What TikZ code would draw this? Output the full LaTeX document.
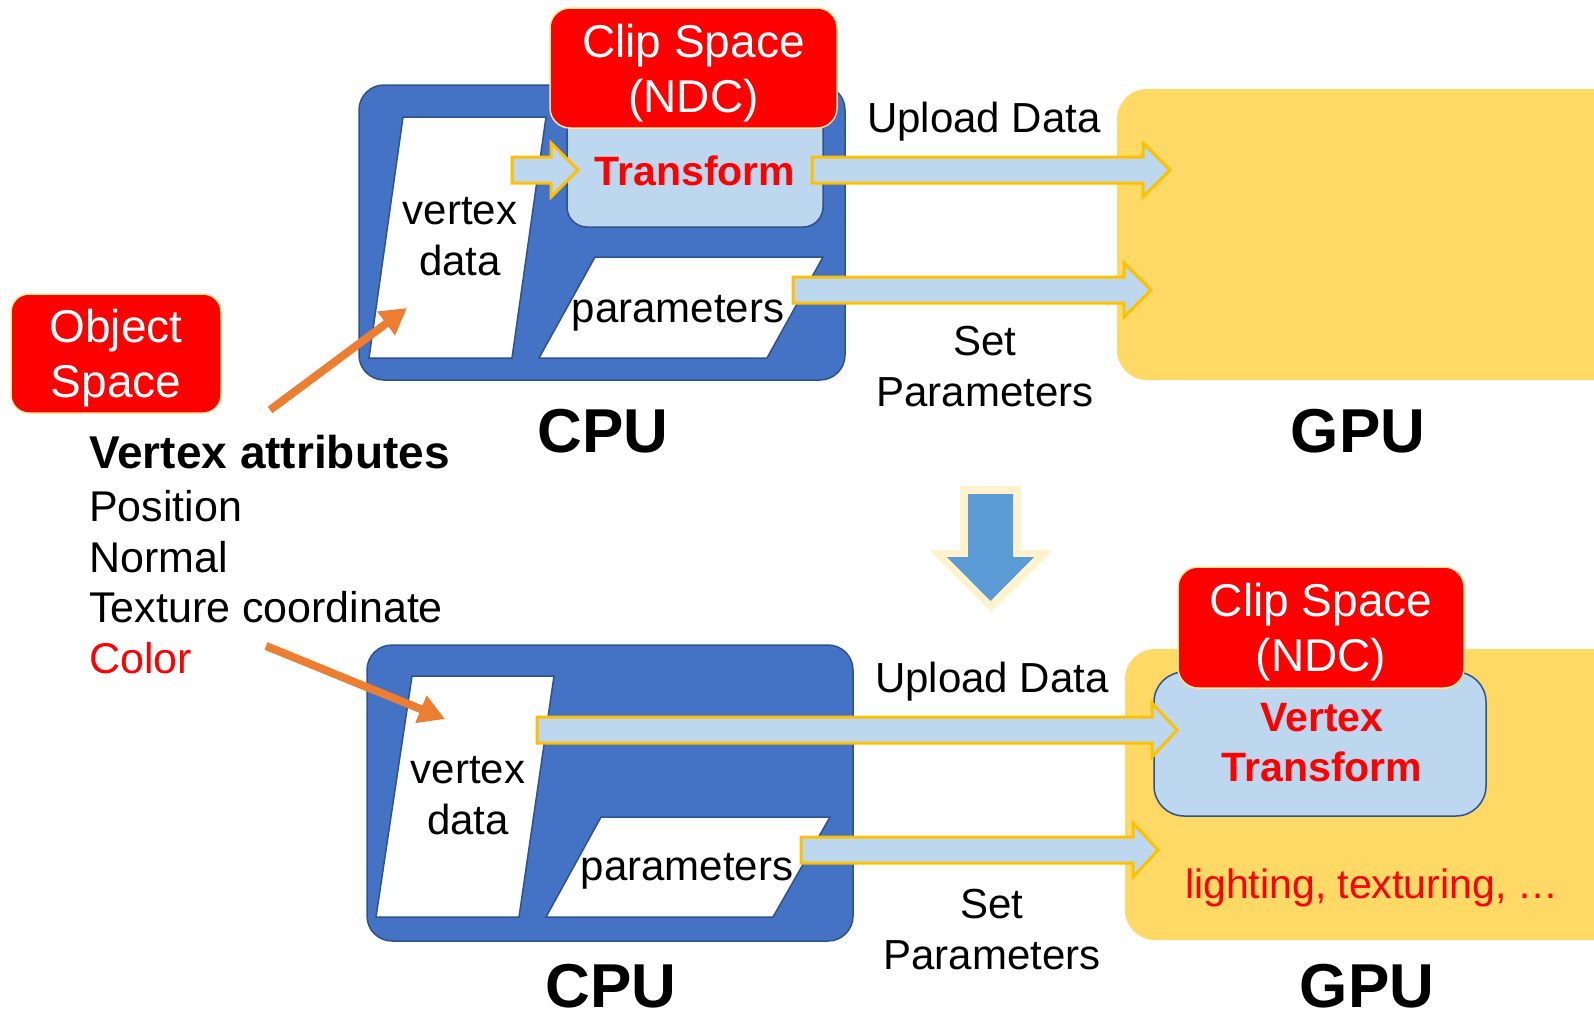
\documentclass[tikz,border=0pt]{standalone}
\usepackage{fontspec}
\setmainfont{Liberation Sans}
\usetikzlibrary{arrows.meta}

\definecolor{cpublue}{HTML}{4472C4}
\definecolor{cpuedge}{HTML}{2F528F}
\definecolor{paleblue}{HTML}{BDD7EE}
\definecolor{amber}{HTML}{FFC000}
\definecolor{gpugold}{HTML}{FFD966}
\definecolor{tagred}{HTML}{FF0000}
\definecolor{tagedge}{HTML}{FFE699}
\definecolor{pointer}{HTML}{ED7D31}
\definecolor{flowblue}{HTML}{5B9BD5}
\definecolor{flowhalo}{HTML}{FFF2CC}

% block arrow: #1 tail x, #2 tip x, #3 x where the head starts, #4 centre y
\newcommand{\flowarrow}[4]{%
  \draw[flow] (#1,#4-13) -- (#3,#4-13) -- (#3,#4-27) -- (#2,#4)
    -- (#3,#4+27) -- (#3,#4+13) -- (#1,#4+13) -- cycle;}

\begin{document}
\begin{tikzpicture}[x=1pt,y=-1pt,
  lbl/.style={font=\fontsize{42}{51}\selectfont, align=center, inner sep=0pt},
  redbold/.style={font=\bfseries\fontsize{41}{50}\selectfont, text=tagred, align=center, inner sep=0pt},
  hw/.style={font=\bfseries\fontsize{62}{70}\selectfont, inner sep=0pt, anchor=base},
  tag/.style={fill=tagred, draw=tagedge, line width=1.5pt, rounded corners=20pt,
    text=white, font=\fontsize{46}{55}\selectfont, align=center, inner sep=0pt, text depth=0pt},
  cpubox/.style={fill=cpublue, draw=cpuedge, line width=1.5pt, rounded corners=25pt,
    minimum width=486pt, minimum height=295pt, inner sep=0pt},
  gpubox/.style={fill=gpugold, draw=none, rounded corners=30pt, inner sep=0pt},
  stage/.style={fill=paleblue, draw=cpuedge, line width=1.5pt, inner sep=0pt},
  slab/.style={fill=white, draw=cpuedge, line width=1.5pt, line join=miter},
  flow/.style={fill=paleblue, draw=amber, line width=3pt, line join=miter},
  attr/.style={font=\fontsize{43}{51}\selectfont, anchor=base west, inner sep=0pt},
  pointerline/.style={draw=pointer, line width=8pt, -{Triangle[length=26pt,width=28pt]}}
]
\useasboundingbox (0,0) rectangle (1594,1013);
\clip (0,0) rectangle (1594,1013);

% ---------- upper row: transform on the CPU ----------
\node[cpubox] (cpuA) at (602,232.5) {};
\node[gpubox, minimum width=523pt, minimum height=291pt] (gpuA) at (1378.5,234.5) {};
\draw[slab] (403,117) -- (546,117) -- (512,358) -- (369,358) -- cycle;
\node[lbl] (vdA) at (460,237) {vertex\\data};
\draw[slab] (595,257) -- (823,257) -- (767,358) -- (539,358) -- cycle;
\node[lbl, anchor=base] (parA) at (678,322) {parameters};
\node[stage, rounded corners=20pt, minimum width=256pt, minimum height=122pt] (trA) at (695,166) {};
\node[tag, minimum width=287pt, minimum height=120pt] (clipA) at (693.5,68) {Clip Space\\(NDC)};
\node[redbold, anchor=base] (trAtext) at (695,185) {Transform};

\flowarrow{512}{578}{551}{170}
\flowarrow{812}{1170}{1143}{170}
\flowarrow{793}{1151}{1124}{290}

\node[lbl, anchor=base] (upA) at (984,132) {Upload Data};
\node[lbl] (setA) at (985,367) {Set\\Parameters};
\node[hw] (cpuAlbl) at (603,452) {CPU};
\node[hw] (gpuAlbl) at (1358,452) {GPU};

% ---------- object space and vertex attributes ----------
\node[tag, rounded corners=18pt, minimum width=210pt, minimum height=119pt] (obj) at (116,353.5) {Object\\Space};
\node[attr, font=\bfseries\fontsize{46}{51}\selectfont] (attrhead) at (89,468) {Vertex attributes};
\node[attr] (attrpos) at (89,521) {Position};
\node[attr] (attrnor) at (89,572) {Normal};
\node[attr] (attrtex) at (89,622) {Texture coordinate};
\node[attr, text=tagred] (attrcol) at (89,673) {Color};

\coordinate (tailA) at (270,410);
\coordinate (tipA) at (407,308);
\draw[pointerline] (tailA) -- (tipA);

% ---------- transition arrow ----------
\fill[flowhalo] (960,486) -- (1021,486) -- (1021,550) -- (1053,550) -- (991,612)
  -- (929,550) -- (960,550) -- cycle;
\fill[flowblue] (968,494) -- (1013,494) -- (1013,557) -- (1034,557) -- (990.5,601)
  -- (947,557) -- (968,557) -- cycle;

% ---------- lower row: transform on the GPU ----------
\node[cpubox, minimum height=296pt] (cpuB) at (610,793) {};
\node[gpubox, minimum width=515pt, minimum height=291pt] (gpuB) at (1382.5,794.5) {};
\draw[slab] (412,676) -- (554,676) -- (519,917) -- (376,917) -- cycle;
\node[lbl] (vdB) at (468,796) {vertex\\data};
\draw[slab] (601,817) -- (830,817) -- (773,917) -- (546,917) -- cycle;
\node[lbl, anchor=base] (parB) at (687,880) {parameters};
\node[stage, rounded corners=30pt, minimum width=332pt, minimum height=144pt] (trB) at (1320,744) {};
\node[tag, minimum width=286pt, minimum height=121pt] (clipB) at (1321,627.5) {Clip Space\\(NDC)};
\node[redbold] (trBtext) at (1322,743) {Vertex\\Transform};
\node[lbl, anchor=base, text=tagred, font=\fontsize{41}{50}\selectfont] (shade) at (1372,898) {lighting, texturing, …};

\flowarrow{537}{1177}{1152}{730}
\flowarrow{801}{1158}{1133}{850}

\node[lbl, anchor=base] (upB) at (992,692) {Upload Data};
\node[lbl] (setB) at (992,930) {Set\\Parameters};
\node[hw] (cpuBlbl) at (611,1007) {CPU};
\node[hw] (gpuBlbl) at (1367,1007) {GPU};

\coordinate (tailB) at (266,646);
\coordinate (tipB) at (445,719);
\draw[pointerline] (tailB) -- (tipB);
\end{tikzpicture}
\end{document}
